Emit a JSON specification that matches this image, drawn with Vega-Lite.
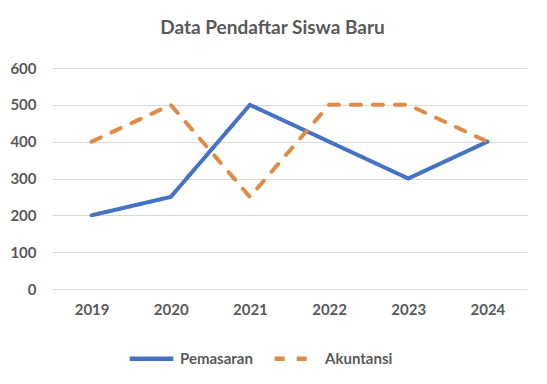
{
  "$schema": "https://vega.github.io/schema/vega-lite/v6.json",
  "autosize": "none",
  "width": 475,
  "height": 221,
  "padding": {"left": 52, "top": 68, "right": 20, "bottom": 95},
  "background": "white",
  "title": {
    "text": "Data Pendaftar Siswa Baru",
    "font": "Lato",
    "fontSize": 19,
    "fontWeight": "bold",
    "color": "#595959",
    "anchor": "middle",
    "dx": -17,
    "offset": 23
  },
  "data": {
    "values": [
      {"tahun": "2019", "jurusan": "Pemasaran", "jumlah": 200},
      {"tahun": "2020", "jurusan": "Pemasaran", "jumlah": 250},
      {"tahun": "2021", "jurusan": "Pemasaran", "jumlah": 500},
      {"tahun": "2022", "jurusan": "Pemasaran", "jumlah": 400},
      {"tahun": "2023", "jurusan": "Pemasaran", "jumlah": 300},
      {"tahun": "2024", "jurusan": "Pemasaran", "jumlah": 400},
      {"tahun": "2019", "jurusan": "Akuntansi", "jumlah": 400},
      {"tahun": "2020", "jurusan": "Akuntansi", "jumlah": 500},
      {"tahun": "2021", "jurusan": "Akuntansi", "jumlah": 250},
      {"tahun": "2022", "jurusan": "Akuntansi", "jumlah": 500},
      {"tahun": "2023", "jurusan": "Akuntansi", "jumlah": 500},
      {"tahun": "2024", "jurusan": "Akuntansi", "jumlah": 400}
    ]
  },
  "mark": {"type": "line", "strokeWidth": 4, "strokeCap": "round", "strokeJoin": "miter"},
  "encoding": {
    "x": {
      "field": "tahun",
      "type": "ordinal",
      "scale": {"type": "point", "padding": 0.5},
      "axis": {
        "title": null,
        "labelAngle": 0,
        "domain": false,
        "ticks": false,
        "grid": false,
        "labelFont": "Lato",
        "labelFontSize": 15,
        "labelFontWeight": "bold",
        "labelColor": "#595959",
        "labelPadding": 13
      }
    },
    "y": {
      "field": "jumlah",
      "type": "quantitative",
      "scale": {"domain": [0, 600]},
      "axis": {
        "title": null,
        "values": [0, 100, 200, 300, 400, 500, 600],
        "domain": false,
        "ticks": false,
        "gridColor": "#d9d9d9",
        "gridWidth": 1.2,
        "labelFont": "Lato",
        "labelFontSize": 15,
        "labelFontWeight": "bold",
        "labelColor": "#595959",
        "labelPadding": 16
      }
    },
    "color": {
      "field": "jurusan",
      "type": "nominal",
      "sort": ["Pemasaran", "Akuntansi"],
      "scale": {"domain": ["Pemasaran", "Akuntansi"], "range": ["#4472C4", "#E08A48"]},
      "legend": {
        "title": null,
        "orient": "none",
        "direction": "horizontal",
        "legendX": 75,
        "legendY": 266,
        "symbolType": "stroke",
        "symbolSize": 1900,
        "symbolStrokeWidth": 4.5,
        "labelFont": "Lato",
        "labelFontSize": 15,
        "labelFontWeight": "bold",
        "labelColor": "#595959",
        "labelOffset": 4,
        "columnPadding": 12
      }
    },
    "strokeDash": {
      "field": "jurusan",
      "type": "nominal",
      "sort": ["Pemasaran", "Akuntansi"],
      "scale": {"domain": ["Pemasaran", "Akuntansi"], "range": [[1, 0], [10, 12]]}
    }
  },
  "config": {"view": {"stroke": null}}
}
